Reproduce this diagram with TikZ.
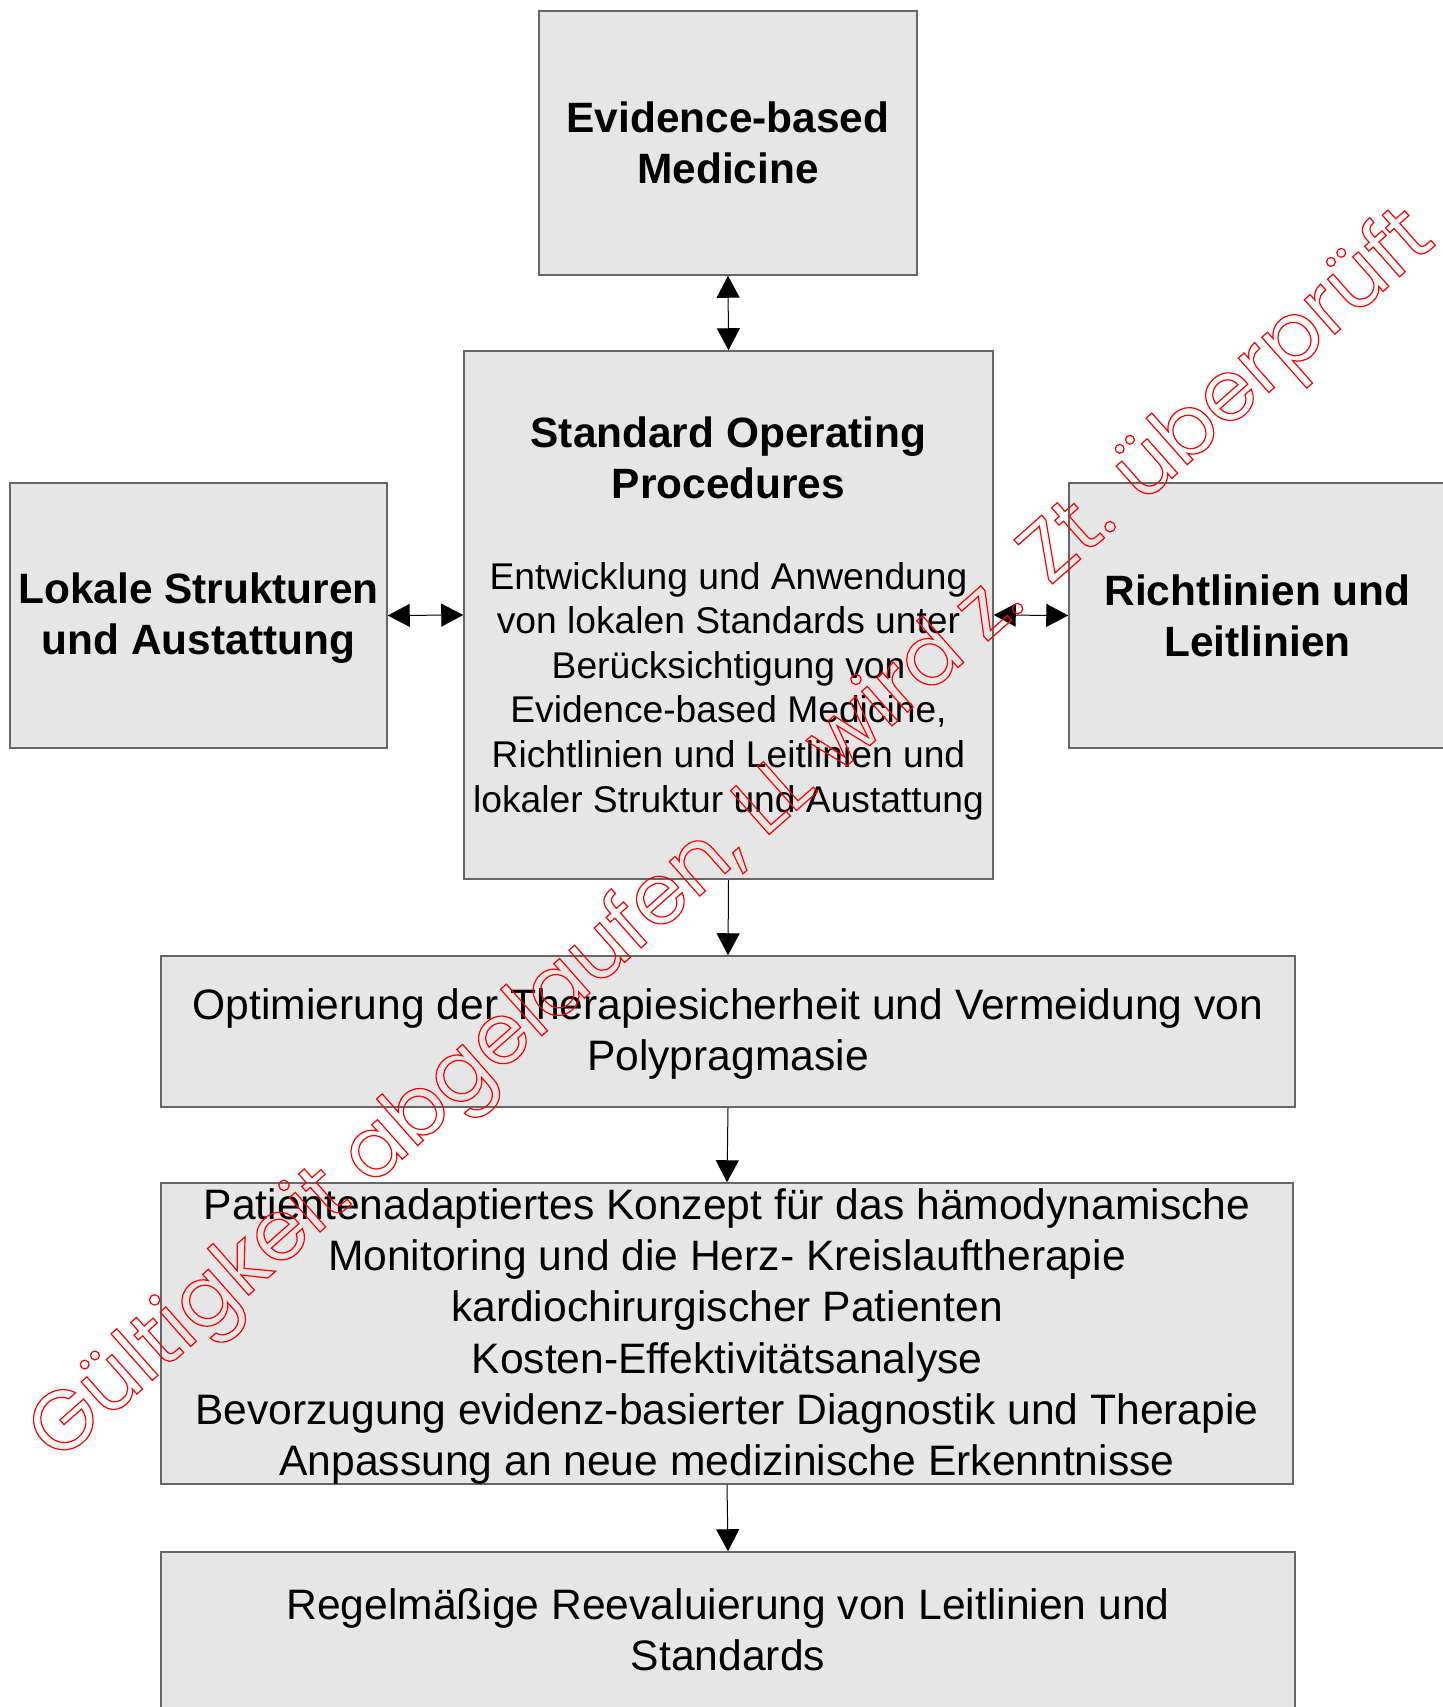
\documentclass[tikz,border=0pt]{standalone}
\usepackage{fontspec}
\setmainfont{Liberation Sans}
\newfontfamily\wmfont{Poppins}
\usetikzlibrary{arrows.meta}

\definecolor{boxfill}{HTML}{E6E6E6}
\definecolor{boxline}{HTML}{666666}

% outlined (stroked, unfilled) text
\newcommand{\outlinetext}[1]{%
    \special{pdf:literal direct 1 Tr 0.6 w}#1\special{pdf:literal direct 0 Tr}}

\tikzset{
    flow box/.style={
        draw=boxline,line width=.75pt,
        fill=boxfill,
        inner sep=0pt,
        align=center
    },
    box size/.style 2 args={
        minimum width=#1*.5pt,minimum height=#2*.5pt
    },
    head text/.style={
        font=\fontsize{21.2}{25.5}\selectfont\bfseries,align=center
    },
    body text/.style={
        font=\fontsize{21.3}{25.6}\selectfont,align=center
    },
    small text/.style={
        font=\fontsize{18.6}{22.3}\selectfont,align=center
    },
    >={Triangle[length=11pt,width=11.5pt]}
}

\begin{document}
\begin{tikzpicture}[x=.5pt,y=-.5pt,line width=.5pt]
    \useasboundingbox (0,0) rectangle (1442,1707);
    % top and middle row
    \node[flow box, head text, box size={378}{264}] (ebm) at (728,143) {Evidence-based\\Medicine};
    \node[flow box, box size={529}{528}] (sop) at (728.5,615) {};
    \node[head text] (sop title) at (728.5,458) {Standard Operating\\Procedures};
    \node[small text] (sop body) at (728.5,691) {Entwicklung und Anwendung\\von lokalen Standards unter\\Berücksichtigung von\\Evidence-based Medicine,\\Richtlinien und Leitlinien und\\lokaler Struktur und Austattung};
    \node[flow box, box size={377}{265}] (lok) at (198.5,615.5) {};
    \node[head text] (lok text) at (198.5,618.5) {Lokale Strukturen\\und Austattung};
    \node[flow box, head text, box size={377}{265}] (ric) at (1257.5,615.5) {Richtlinien und\\Leitlinien};
    % lower chain
    \node[flow box, box size={1134}{151}] (opt) at (728,1031.5) {};
    \node[body text] (opt text) at (728,1034) {Optimierung der Therapiesicherheit und Vermeidung von\\Polypragmasie};
    \node[flow box, box size={1132}{301}] (pat) at (727,1333.5) {};
    \node[body text] (pat text) at (727,1336.5) {Patientenadaptiertes Konzept für das hämodynamische\\Monitoring und die Herz- Kreislauftherapie\\kardiochirurgischer Patienten\\Kosten-Effektivitätsanalyse\\Bevorzugung evidenz-basierter Diagnostik und Therapie\\Anpassung an neue medizinische Erkenntnisse};
    \node[flow box, body text, box size={1134}{156}] (reg) at (728,1630) {Regelmäßige Reevaluierung von Leitlinien und\\Standards};
    \draw[<->] (ebm.south) -- (sop.north);
    \draw[<->] (lok.east) -- (sop.west);
    \draw[<->] (sop.east) -- (ric.west);
    \draw[->] (sop.south) -- (opt.north);
    \draw[->] (opt.south) -- (pat.north);
    \draw[->] (pat.south) -- (reg.north);
    % watermark
    \node[rotate=41.5, text=red] (stamp) at (734,838) {\wmfont\fontsize{42}{42}\selectfont\outlinetext{Gültigkeit abgelaufen, LL wird z. Zt. überprüft}};
\end{tikzpicture}
\end{document}
